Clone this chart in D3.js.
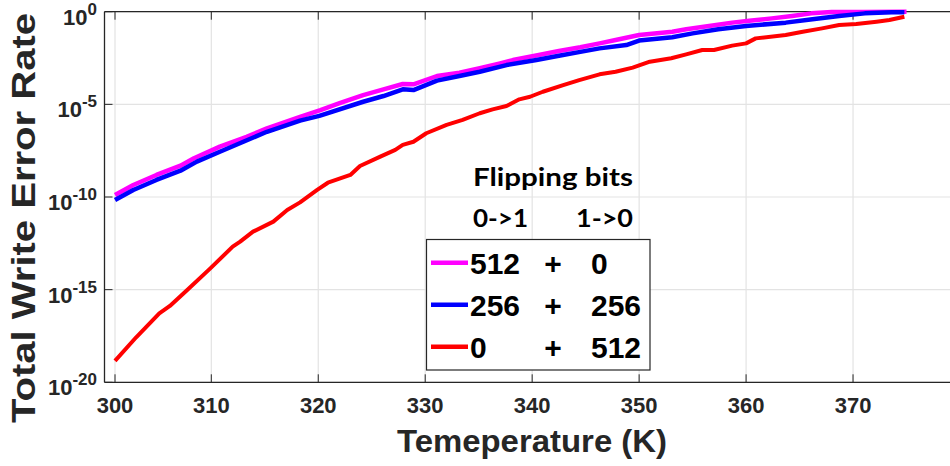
<!DOCTYPE html>
<html>
<head>
<meta charset="utf-8">
<script src="https://cdn.jsdelivr.net/npm/d3@7"></script>
<style>
  html, body { margin: 0; padding: 0; background: #fff; }
  svg { display: block; }
</style>
</head>
<body>
<svg id="chart" width="950" height="466"></svg>
<script>
// ---------------- data ----------------
// Temperatures (K) and log10(total write error rate) for each curve
const magentaT = [300.0, 301.9, 304.3, 306.8, 308.2, 310.8, 313.3, 315.2, 318.3, 320.2, 322.0, 324.2, 326.1, 327.9, 328.9, 331.1, 333.2, 335.1, 337.0, 338.2, 340.5, 342.5, 344.5, 346.3, 347.8, 350.0, 353.1, 354.4, 357.2, 358.7, 360.3, 362.4, 364.3, 366.1, 368.0, 371.0, 375.0];
const magentaLog = [-9.89, -9.35, -8.81, -8.31, -7.91, -7.28, -6.75, -6.29, -5.67, -5.31, -4.94, -4.50, -4.19, -3.90, -3.92, -3.47, -3.29, -3.05, -2.79, -2.61, -2.35, -2.12, -1.92, -1.71, -1.53, -1.26, -1.08, -0.95, -0.72, -0.59, -0.49, -0.36, -0.23, -0.09, -0.02, -0.01, 0.0];

const blueT = [300.0, 301.9, 304.3, 306.8, 308.5, 310.8, 313.0, 315.2, 318.3, 320.1, 324.2, 326.1, 327.9, 328.9, 331.1, 333.2, 335.1, 337.6, 340.4, 342.5, 344.5, 346.3, 348.8, 350.0, 353.1, 355.0, 357.4, 360.0, 363.7, 366.2, 368.7, 371.1, 373.6, 374.8];
const blueLog = [-10.16, -9.62, -9.08, -8.58, -8.09, -7.56, -7.02, -6.48, -5.88, -5.62, -4.86, -4.55, -4.19, -4.23, -3.72, -3.47, -3.24, -2.88, -2.61, -2.38, -2.17, -1.98, -1.80, -1.56, -1.38, -1.17, -0.95, -0.77, -0.59, -0.41, -0.23, -0.09, -0.03, -0.03];

const redT = [300.0, 302.2, 304.6, 305.7, 307.5, 309.9, 312.0, 312.7, 313.9, 315.8, 317.1, 318.3, 319.9, 320.9, 323.0, 323.9, 325.8, 327.2, 327.9, 328.9, 330.1, 332.0, 333.5, 335.1, 336.3, 337.6, 338.8, 339.8, 341.0, 342.9, 344.4, 346.3, 347.8, 349.4, 351.0, 353.0, 354.4, 355.9, 357.0, 358.7, 360.0, 360.9, 363.7, 365.3, 367.1, 368.7, 370.3, 372.2, 373.4, 374.8];
const redLog = [-18.84, -17.57, -16.28, -15.88, -15.02, -13.85, -12.68, -12.41, -11.87, -11.33, -10.70, -10.29, -9.62, -9.23, -8.81, -8.33, -7.82, -7.46, -7.19, -7.02, -6.56, -6.11, -5.84, -5.48, -5.27, -5.09, -4.73, -4.59, -4.32, -3.96, -3.69, -3.38, -3.24, -3.02, -2.70, -2.51, -2.30, -2.07, -2.07, -1.83, -1.71, -1.44, -1.26, -1.08, -0.90, -0.72, -0.66, -0.54, -0.45, -0.27];

const xTicks = [300, 310, 320, 330, 340, 350, 360, 370];
const yTickExps = [0, -5, -10, -15, -20];

const legendCol1 = ["512", "256", "0"];
const legendCol3 = ["0", "256", "512"];
const legendHeader = "Flipping bits";
const legendSub = ["0->1", "1->0"];
const seriesColors = ["#ff00ff", "#0000ff", "#ff0000"];

const xTitle = "Temeperature (K)";
const yTitle = "Total Write Error Rate";

// ---------------- layout ----------------
const W = 950, H = 466;
const plotL = 104.5, plotT = 11.7, plotB = 382.3, plotR = 960;

const svg = d3.select("#chart");

const x = d3.scaleLinear().domain([300, 310, 380]).range([115, 211.3, 960]);
const y = d3.scaleLog().domain([1e-20, 1]).range([plotB, plotT]);

const FONT = "'Liberation Sans', Arial, Helvetica, sans-serif";

// grid
const grid = svg.append("g");
grid.selectAll("line.gx").data(xTicks).join("line")
  .attr("x1", d => x(d)).attr("x2", d => x(d))
  .attr("y1", plotT).attr("y2", plotB)
  .attr("stroke", "#e3e3e3").attr("stroke-width", 1.2);
grid.selectAll("line.gy").data(yTickExps).join("line")
  .attr("x1", plotL).attr("x2", plotR)
  .attr("y1", d => y(Math.pow(10, d))).attr("y2", d => y(Math.pow(10, d)))
  .attr("stroke", "#e3e3e3").attr("stroke-width", 1.2);

// axes frame
const axisColor = "#262626";
const frame = svg.append("g");
frame.append("line").attr("x1", plotL).attr("x2", plotL).attr("y1", plotT).attr("y2", plotB)
  .attr("stroke", axisColor).attr("stroke-width", 1.3);
frame.append("line").attr("x1", plotL).attr("x2", plotR).attr("y1", plotB).attr("y2", plotB)
  .attr("stroke", axisColor).attr("stroke-width", 1.3);
frame.append("line").attr("x1", plotL).attr("x2", plotR).attr("y1", plotT).attr("y2", plotT)
  .attr("stroke", axisColor).attr("stroke-width", 1.3);

// x ticks (bottom & top, inward)
frame.selectAll("line.xtb").data(xTicks).join("line")
  .attr("x1", d => x(d)).attr("x2", d => x(d))
  .attr("y1", plotB).attr("y2", plotB - 8)
  .attr("stroke", axisColor).attr("stroke-width", 1);
frame.selectAll("line.xtt").data(xTicks).join("line")
  .attr("x1", d => x(d)).attr("x2", d => x(d))
  .attr("y1", plotT).attr("y2", plotT + 8)
  .attr("stroke", axisColor).attr("stroke-width", 1);
// y ticks
frame.selectAll("line.yt").data(yTickExps).join("line")
  .attr("x1", plotL).attr("x2", plotL + 8)
  .attr("y1", d => y(Math.pow(10, d))).attr("y2", d => y(Math.pow(10, d)))
  .attr("stroke", axisColor).attr("stroke-width", 1);

// x tick labels
svg.append("g").selectAll("text").data(xTicks).join("text")
  .attr("x", d => x(d)).attr("y", 413)
  .attr("text-anchor", "middle")
  .attr("font-family", FONT).attr("font-weight", "bold").attr("font-size", 22)
  .attr("fill", "#262626")
  .text(d => d);

// y tick labels (10^n)
const yl = svg.append("g").selectAll("text").data(yTickExps).join("text")
  .attr("x", 97).attr("y", d => y(Math.pow(10, d)) + 13)
  .attr("text-anchor", "end")
  .attr("font-family", FONT).attr("font-weight", "bold").attr("font-size", 22)
  .attr("fill", "#262626");
yl.append("tspan").text("10");
yl.append("tspan").attr("dy", -10).attr("font-size", 17).text(d => d);

// axis titles
svg.append("text")
  .attr("x", 532).attr("y", 452)
  .attr("text-anchor", "middle")
  .attr("font-family", FONT).attr("font-weight", "bold").attr("font-size", 32)
  .attr("fill", "#262626")
  .attr("textLength", 270).attr("lengthAdjust", "spacingAndGlyphs")
  .text(xTitle);

svg.append("text")
  .attr("transform", "translate(35,218) rotate(-90)")
  .attr("text-anchor", "middle")
  .attr("font-family", FONT).attr("font-weight", "bold").attr("font-size", 33)
  .attr("fill", "#262626")
  .attr("textLength", 410).attr("lengthAdjust", "spacingAndGlyphs")
  .text(yTitle);

// curves
const series = [
  { t: magentaT, v: magentaLog, color: seriesColors[0], w: 4.5 },
  { t: blueT, v: blueLog, color: seriesColors[1], w: 4.5 },
  { t: redT, v: redLog, color: seriesColors[2], w: 4 }
];
const line = d3.line().x(d => x(d[0])).y(d => y(Math.pow(10, d[1])));
svg.append("g").selectAll("path").data(series).join("path")
  .attr("d", s => line(s.t.map((t, i) => [t, s.v[i]])))
  .attr("fill", "none")
  .attr("stroke", s => s.color)
  .attr("stroke-width", s => s.w)
  .attr("stroke-linejoin", "round");

// legend header
const headerFont = "Lato, 'Open Sans', sans-serif";
svg.append("text")
  .attr("x", 473).attr("y", 186)
  .attr("font-family", headerFont).attr("font-weight", "bold").attr("font-size", 24)
  .attr("fill", "#000")
  .attr("textLength", 160).attr("lengthAdjust", "spacingAndGlyphs")
  .text(legendHeader);
svg.append("text")
  .attr("x", 473).attr("y", 227)
  .attr("font-family", headerFont).attr("font-weight", "bold").attr("font-size", 25)
  .attr("fill", "#000")
  .attr("textLength", 55).attr("lengthAdjust", "spacingAndGlyphs")
  .text(legendSub[0]);
svg.append("text")
  .attr("x", 576).attr("y", 227)
  .attr("font-family", headerFont).attr("font-weight", "bold").attr("font-size", 25)
  .attr("fill", "#000")
  .attr("textLength", 57).attr("lengthAdjust", "spacingAndGlyphs")
  .text(legendSub[1]);

// legend box
const lg = svg.append("g");
lg.append("rect").attr("x", 426.5).attr("y", 239.5).attr("width", 223.5).attr("height", 130.5)
  .attr("fill", "#fff").attr("stroke", "#262626").attr("stroke-width", 1.2);
const rowY = [262.7, 304.7, 346.7];
const rows = lg.selectAll("g.row").data(legendCol1).join("g");
rows.append("line")
  .attr("x1", 431).attr("x2", 468)
  .attr("y1", (d, i) => rowY[i]).attr("y2", (d, i) => rowY[i])
  .attr("stroke", (d, i) => seriesColors[i]).attr("stroke-width", 4.5);
rows.append("text")
  .attr("x", 470).attr("y", (d, i) => rowY[i] + 11)
  .attr("font-family", FONT).attr("font-weight", "bold").attr("font-size", 30)
  .attr("fill", "#000").text(d => d);
rows.append("text")
  .attr("x", 553).attr("y", (d, i) => rowY[i] + 11)
  .attr("text-anchor", "middle")
  .attr("font-family", FONT).attr("font-weight", "bold").attr("font-size", 30)
  .attr("fill", "#000").text("+");
rows.append("text")
  .attr("x", 591).attr("y", (d, i) => rowY[i] + 11)
  .attr("font-family", FONT).attr("font-weight", "bold").attr("font-size", 30)
  .attr("fill", "#000").text((d, i) => legendCol3[i]);
</script>
</body>
</html>
